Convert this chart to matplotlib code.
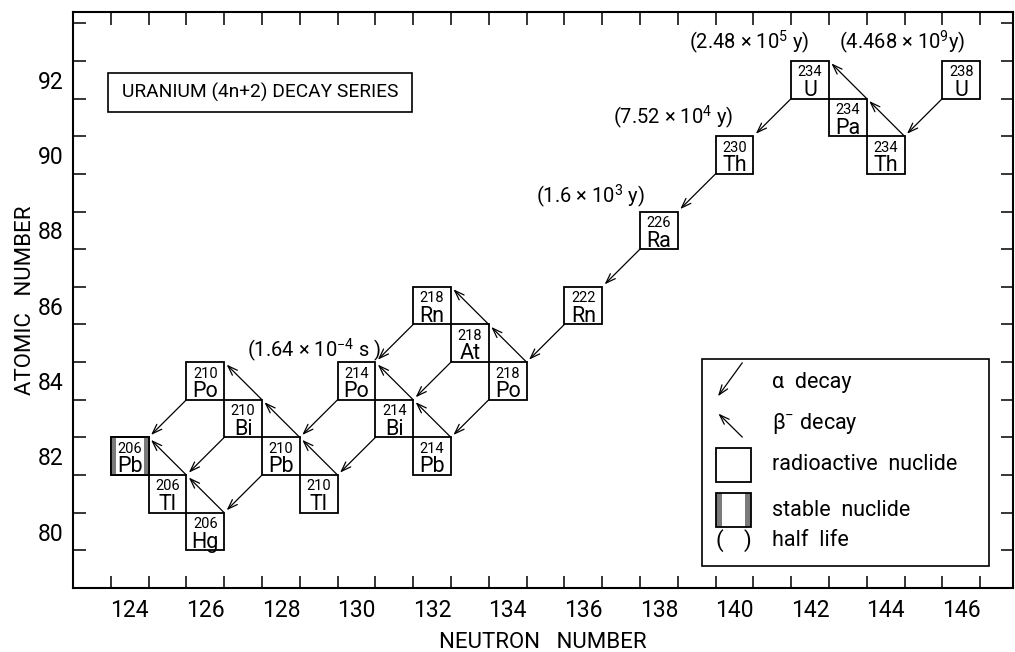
import numpy as np
import matplotlib.pyplot as plt
from matplotlib.patches import Rectangle

plt.rcParams['font.family'] = ['Roboto', 'DejaVu Sans']
plt.rcParams['mathtext.default'] = 'regular'

# nuclides of the 4n+2 chain
mass = [238, 234, 234, 234, 230, 226, 222, 218, 218, 218,
        214, 214, 214, 210, 210, 210, 210, 206, 206, 206]
atomic = [92, 90, 91, 92, 90, 88, 86, 84, 85, 86,
          82, 83, 84, 81, 82, 83, 84, 80, 81, 82]
symbol = ['U', 'Th', 'Pa', 'U', 'Th', 'Ra', 'Rn', 'Po', 'At', 'Rn',
          'Pb', 'Bi', 'Po', 'Tl', 'Pb', 'Bi', 'Po', 'Hg', 'Tl', 'Pb']
stable = ['206Pb']

alpha_parents = ['238U', '234U', '230Th', '226Ra', '222Rn', '218Po', '218At',
                 '218Rn', '214Po', '214Bi', '210Po', '210Bi', '210Pb']
beta_parents = ['234Th', '234Pa', '218Po', '218At', '214Pb', '214Bi',
                '210Tl', '210Pb', '210Bi', '206Hg', '206Tl']

halflife_nuclide = ['238U', '234U', '230Th', '226Ra', '214Po']
halflife_text = [r'(4.468 × 10$^{9}$y)', r'(2.48 × 10$^{5}$ y)',
                 r'(7.52 × 10$^{4}$ y)', r'(1.6 × 10$^{3}$ y)',
                 r'(1.64 × 10$^{-4}$ s )']
# label offsets from the box centre (layout only)
halflife_dx = [-1.55, -1.6, -1.63, -1.8, -1.13]
halflife_dy = [1.0, 1.0, 1.0, 0.9, 0.81]

pos = {}
for a, z, s in zip(mass, atomic, symbol):
    pos[f'{a}{s}'] = (a - z, z)

fig = plt.figure(figsize=(10.15, 6.52), dpi=100)
ax = fig.add_axes([73 / 1015, 64 / 652, 940 / 1015, 576 / 652])
ax.set_xlim(122.5, 147.37)
ax.set_ylim(78.5, 93.8)

GREY = '#7a7a7a'

# boxes
for a, z, s in zip(mass, atomic, symbol):
    n = a - z
    ax.add_patch(Rectangle((n - 0.5, z - 0.5), 1, 1, fc='white', ec='black', lw=1.3, zorder=2))
    if f'{a}{s}' in stable:
        ax.add_patch(Rectangle((n - 0.5, z - 0.5), 0.14, 1, fc=GREY, ec='none', zorder=3))
        ax.add_patch(Rectangle((n + 0.38, z - 0.5), 0.12, 1, fc=GREY, ec='none', zorder=3))
        ax.add_patch(Rectangle((n - 0.5, z - 0.5), 1, 1, fc='none', ec='black', lw=1.3, zorder=4))
    ax.text(n, z + 0.09, str(a), ha='center', va='baseline', fontsize=10.5, zorder=5)
    ax.text(n, z - 0.43, s, ha='center', va='baseline', fontsize=15.5, zorder=5)

arrow_kw = dict(arrowstyle='->,head_length=0.7,head_width=0.25', lw=0.9,
                color='black', shrinkA=0, shrinkB=2.5)

# alpha: bottom-left corner of parent -> top-right corner of daughter
for p in alpha_parents:
    n, z = pos[p]
    ax.annotate('', xy=(n - 1.5, z - 1.5), xytext=(n - 0.5, z - 0.5),
                arrowprops=arrow_kw, zorder=6)

# beta-: top-right corner of parent -> top-right corner of daughter
for p in beta_parents:
    n, z = pos[p]
    ax.annotate('', xy=(n - 0.5, z + 1.5), xytext=(n + 0.5, z + 0.5),
                arrowprops=arrow_kw, zorder=6)

for nuc, txt, dx, dy in zip(halflife_nuclide, halflife_text, halflife_dx, halflife_dy):
    n, z = pos[nuc]
    ax.text(n + dx, z + dy, txt, ha='center', va='center', fontsize=14.5)

T = ax.transAxes

# title box
ax.add_patch(Rectangle((0.0372, 0.826), 0.3234, 0.068, transform=T, fc='white',
                       ec='black', lw=1.2, zorder=7))
ax.text(0.199, 0.86, 'URANIUM (4n+2) DECAY SERIES', transform=T, ha='center',
        va='center', fontsize=13.8, zorder=8)

# key
ax.add_patch(Rectangle((0.669, 0.038), 0.305, 0.36, transform=T, fc='white',
                       ec='black', lw=1.2, zorder=7))
key_kw = dict(xycoords=T, textcoords=T, zorder=8)
ax.annotate('', xy=(0.684, 0.328), xytext=(0.712, 0.391), arrowprops=arrow_kw, **key_kw)
ax.annotate('', xy=(0.684, 0.307), xytext=(0.712, 0.262), arrowprops=arrow_kw, **key_kw)
ax.add_patch(Rectangle((0.684, 0.184), 0.0372, 0.059, transform=T, fc='white',
                       ec='black', lw=1.3, zorder=8))
ax.add_patch(Rectangle((0.684, 0.106), 0.006, 0.059, transform=T, fc=GREY, ec='none', zorder=8))
ax.add_patch(Rectangle((0.7152, 0.106), 0.006, 0.059, transform=T, fc=GREY, ec='none', zorder=8))
ax.add_patch(Rectangle((0.684, 0.106), 0.0372, 0.059, transform=T, fc='none',
                       ec='black', lw=1.3, zorder=9))
ax.text(0.684, 0.083, '(', transform=T, ha='left', va='center', fontsize=16, zorder=9)
ax.text(0.722, 0.083, ')', transform=T, ha='right', va='center', fontsize=16, zorder=9)
key_labels = ['α  decay', r'$\beta^{-}$ decay', 'radioactive  nuclide', 'stable  nuclide', 'half  life']
key_y = [0.356, 0.286, 0.214, 0.135, 0.083]
for lab, y in zip(key_labels, key_y):
    ax.text(0.744, y, lab, transform=T, ha='left', va='center', fontsize=15.5, zorder=9)

# axes, ticks
ax.set_xticks(np.arange(124, 147, 2))
ax.set_xticks(np.arange(123.5, 147, 1), minor=True)
ax.set_yticks(np.arange(80, 93, 2))
ax.set_yticks(np.arange(79.5, 94, 1), minor=True)
ax.tick_params(which='major', length=0, labelsize=16.5)
ax.tick_params(axis='x', which='major', pad=8)
ax.tick_params(axis='y', which='major', pad=7)
ax.tick_params(which='minor', direction='in', length=9, width=1.1,
               top=True, right=True, bottom=True, left=True)
for sp in ax.spines.values():
    sp.set_linewidth(1.5)

ax.set_xlabel('NEUTRON   NUMBER', fontsize=16, labelpad=7)
ax.set_ylabel('ATOMIC   NUMBER', fontsize=16, labelpad=1)

fig.savefig('out.png', dpi=100)
